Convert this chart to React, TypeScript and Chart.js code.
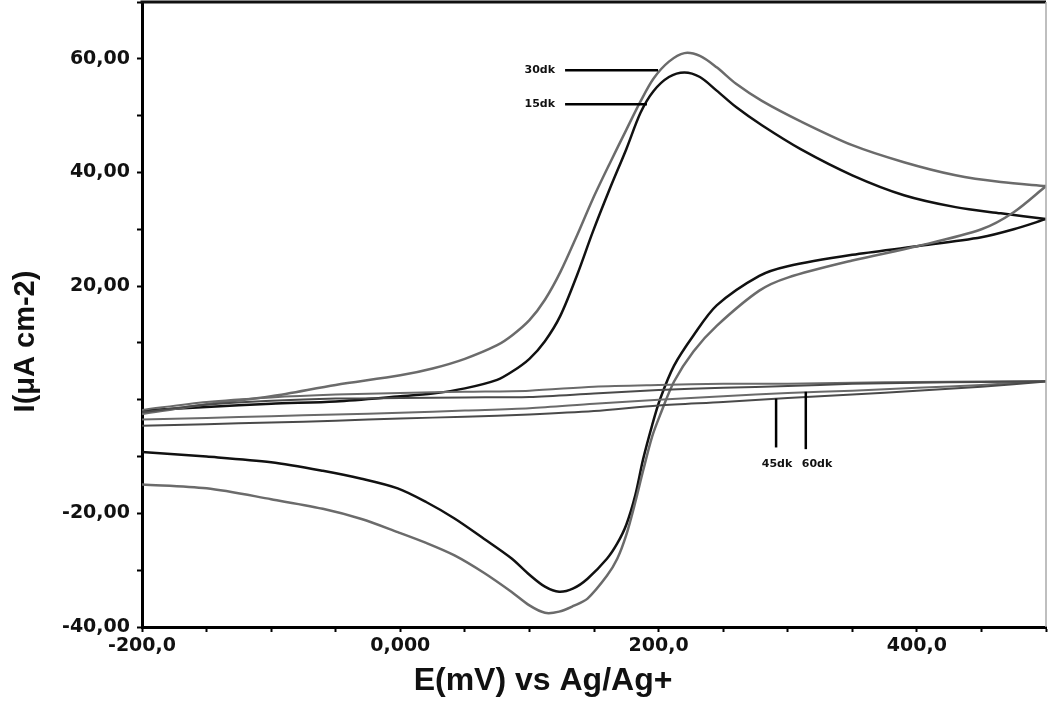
import React, { useEffect, useRef } from 'react';
import { Chart, registerables } from 'chart.js';

Chart.register(...registerables);

// ---- Forward (anodic) sweep of the two large voltammograms ----
const E_FWD = [-200, -150, -100, -50, 0, 25, 50, 75, 87, 100, 112, 124, 137, 149, 162, 175, 186, 196, 208, 220, 232, 245, 260, 280, 310, 350, 390, 430, 465, 500];
const I_FWD_15 = [-1.9, -1.3, -0.7, -0.3, 0.6, 1.1, 2.0, 3.5, 5.0, 7.2, 10.3, 14.8, 22, 29.5, 37, 44.1, 50.5, 54.3, 56.8, 57.6, 56.8, 54.4, 51.5, 48.3, 44.1, 39.5, 36, 33.9, 32.8, 31.8];
const I_FWD_30 = [-2.5, -0.8, 0.6, 2.6, 4.3, 5.5, 7.2, 9.6, 11.4, 14.0, 17.6, 22.5, 29, 35.3, 41.5, 47.5, 52.5, 56.5, 59.5, 61, 60.5, 58.5, 55.6, 52.6, 49, 44.8, 41.8, 39.5, 38.3, 37.6];

// ---- Reverse (cathodic) sweep of the two large voltammograms ----
const E_REV = [-200, -150, -100, -60, -30, -2, 20, 42, 65, 86, 100, 112, 123, 134, 145, 160, 168, 175, 182, 188, 195, 201, 212, 227, 245, 278, 300, 350, 400, 450, 475, 500];
const I_REV_15 = [-9.2, -10, -11, -12.5, -13.9, -15.6, -18, -20.9, -24.5, -27.9, -30.8, -32.9, -33.8, -33.2, -31.5, -28, -25.3, -22, -16.8, -10.5, -4.5, 0, 6.0, 11.3, 16.6, 21.8, 23.5, 25.5, 27, 28.6, 30, 31.8];
const I_REV_30 = [-14.9, -15.6, -17.5, -19.2, -21, -23.3, -25.2, -27.4, -30.5, -33.8, -36.2, -37.5, -37.3, -36.3, -35, -31, -28, -23.8, -18, -12.5, -6.5, -2.8, 3.2, 8.5, 13, 19.2, 21.5, 24.5, 27, 30, 33, 37.6];

// ---- Flat voltammograms (45 dk, 60 dk) ----
const E_FLAT = [-200, -150, -100, -50, 0, 50, 100, 150, 200, 250, 300, 350, 400, 450, 500];
const I_FWD_45 = [-2.2, -0.9, -0.2, 0.2, 0.3, 0.4, 0.5, 1.1, 1.7, 2.1, 2.4, 2.8, 3.0, 3.1, 3.2];
const I_REV_45 = [-4.6, -4.3, -4.0, -3.7, -3.3, -3.0, -2.6, -2.0, -1.0, -0.4, 0.3, 0.9, 1.6, 2.3, 3.2];
const I_FWD_60 = [-1.8, -0.4, 0.4, 0.9, 1.2, 1.4, 1.6, 2.3, 2.6, 2.8, 2.8, 3.0, 3.1, 3.2, 3.3];
const I_REV_60 = [-3.5, -3.2, -2.9, -2.6, -2.3, -1.9, -1.5, -0.7, 0.0, 0.6, 1.2, 1.6, 2.1, 2.6, 3.3];

// ---- Axis tick labels ----
const X_TICK_VALUES = [-200, 0, 200, 400];
const X_TICK_TEXT = ['-200,0', '0,000', '200,0', '400,0'];
const Y_TICK_VALUES = [60, 40, 20, -20, -40];
const Y_TICK_TEXT = ['60,00', '40,00', '20,00', '-20,00', '-40,00'];

const X_TITLE = 'E(mV) vs Ag/Ag+';
const Y_TITLE = 'I(μA cm-2)';

// ---- Curve labels with leader lines (data coordinates) ----
const NOTE_TEXT = ['30dk', '15dk', '45dk', '60dk'];
const NOTE_LINE_E0 = [127.6, 127.6, 291, 314];
const NOTE_LINE_E1 = [199.6, 191, 291, 314];
const NOTE_LINE_I0 = [58.0, 52.0, 0.2, 1.4];
const NOTE_LINE_I1 = [58.0, 52.0, -8.4, -8.7];
const NOTE_TEXT_E = [119.8, 119.8, 291.7, 322.7];
const NOTE_TEXT_I = [58.0, 52.0, -11.4, -11.4];
const NOTE_ALIGN = ['right', 'right', 'center', 'center'];

function pts(e: number[], i: number[]) {
  return e.map((x, k) => ({ x, y: i[k] }));
}

function lineSet(e: number[], i: number[], color: string, width: number) {
  return {
    data: pts(e, i),
    showLine: true,
    borderColor: color,
    backgroundColor: color,
    borderWidth: width,
    pointRadius: 0,
    tension: 0.3,
    fill: false,
  };
}

const framePlugin = {
  id: 'frame',
  afterDraw(chart: any) {
    const { ctx, chartArea } = chart;
    ctx.save();
    ctx.strokeStyle = '#111';
    ctx.lineWidth = 3;
    ctx.beginPath();
    ctx.moveTo(chartArea.left - 1.5, chartArea.top);
    ctx.lineTo(chartArea.right, chartArea.top);
    ctx.stroke();
    ctx.strokeStyle = '#aaa';
    ctx.lineWidth = 1.5;
    ctx.beginPath();
    ctx.moveTo(chartArea.right, chartArea.top);
    ctx.lineTo(chartArea.right, chartArea.bottom);
    ctx.stroke();
    ctx.restore();
  },
};

const notesPlugin = {
  id: 'notes',
  afterDatasetsDraw(chart: any) {
    const { ctx } = chart;
    const xs = chart.scales.x;
    const ys = chart.scales.y;
    ctx.save();
    ctx.strokeStyle = '#000';
    ctx.lineWidth = 2.5;
    for (let k = 0; k < NOTE_TEXT.length; k++) {
      ctx.beginPath();
      ctx.moveTo(xs.getPixelForValue(NOTE_LINE_E0[k]), ys.getPixelForValue(NOTE_LINE_I0[k]));
      ctx.lineTo(xs.getPixelForValue(NOTE_LINE_E1[k]), ys.getPixelForValue(NOTE_LINE_I1[k]));
      ctx.stroke();
    }
    ctx.fillStyle = '#111';
    ctx.font = 'bold 11px "DejaVu Sans"';
    ctx.textBaseline = 'middle';
    for (let k = 0; k < NOTE_TEXT.length; k++) {
      ctx.textAlign = NOTE_ALIGN[k] as CanvasTextAlign;
      ctx.fillText(NOTE_TEXT[k], xs.getPixelForValue(NOTE_TEXT_E[k]), ys.getPixelForValue(NOTE_TEXT_I[k]));
    }
    ctx.restore();
  },
};

const titlesPlugin = {
  id: 'titles',
  afterDraw(chart: any) {
    const { ctx } = chart;
    ctx.save();
    ctx.fillStyle = '#111';
    ctx.textAlign = 'center';
    ctx.textBaseline = 'alphabetic';
    ctx.font = 'bold 32px "Liberation Sans", Arial, sans-serif';
    ctx.fillText(X_TITLE, 543, 690);
    ctx.translate(34, 341.5);
    ctx.rotate(-Math.PI / 2);
    ctx.font = 'bold 29px "Liberation Sans", Arial, sans-serif';
    ctx.fillText(Y_TITLE, 0, 0);
    ctx.restore();
  },
};

export default function App() {
  const ref = useRef<HTMLCanvasElement>(null);

  useEffect(() => {
    const canvas = ref.current;
    if (!canvas) return;
    const tickFont = { family: '"DejaVu Sans"', weight: 'bold' as const, size: 19 };
    const chart = new Chart(canvas, {
      type: 'scatter',
      data: {
        datasets: [
          lineSet(E_FLAT, I_FWD_45, '#4a4a4a', 2),
          lineSet(E_FLAT, I_REV_45, '#4a4a4a', 2),
          lineSet(E_FLAT, I_FWD_60, '#6a6a6a', 2),
          lineSet(E_FLAT, I_REV_60, '#6a6a6a', 2),
          lineSet(E_FWD, I_FWD_30, '#6b6b6b', 2.5),
          lineSet(E_REV, I_REV_30, '#6b6b6b', 2.5),
          lineSet(E_FWD, I_FWD_15, '#111111', 2.5),
          lineSet(E_REV, I_REV_15, '#111111', 2.5),
        ],
      },
      options: {
        responsive: false,
        animation: false,
        devicePixelRatio: 1,
        layout: { padding: { top: 2, right: 2, left: 0, bottom: 0 } },
        plugins: {
          legend: { display: false },
          tooltip: { enabled: false },
        },
        scales: {
          x: {
            type: 'linear',
            min: -200,
            max: 500,
            afterFit: (s: any) => {
              s.height = 74;
              s.paddingLeft = 0;
              s.paddingRight = 0;
            },
            ticks: {
              stepSize: 50,
              autoSkip: false,
              maxRotation: 0,
              padding: 3,
              color: '#111',
              font: tickFont,
              callback: (v: any) => {
                const k = X_TICK_VALUES.indexOf(Number(v));
                return k >= 0 ? X_TICK_TEXT[k] : '';
              },
            },
            grid: {
              drawOnChartArea: false,
              drawTicks: true,
              tickLength: 5,
              tickWidth: 2,
              tickColor: '#000',
            },
            border: { display: true, width: 3, color: '#000' },
          },
          y: {
            type: 'linear',
            min: -40,
            max: 70,
            afterFit: (s: any) => {
              s.width = 142;
              s.paddingTop = 0;
              s.paddingBottom = 0;
            },
            ticks: {
              stepSize: 10,
              autoSkip: false,
              padding: 7,
              color: '#111',
              font: tickFont,
              callback: (v: any) => {
                const k = Y_TICK_VALUES.indexOf(Number(v));
                return k >= 0 ? Y_TICK_TEXT[k] : '';
              },
            },
            grid: {
              drawOnChartArea: false,
              drawTicks: true,
              tickLength: 5,
              tickWidth: 2,
              tickColor: '#000',
            },
            border: { display: true, width: 3, color: '#000' },
          },
        },
      },
      plugins: [framePlugin, notesPlugin, titlesPlugin],
    });
    return () => chart.destroy();
  }, []);

  return (
    <div style={{ position: 'fixed', left: 0, top: 0, width: 1048, height: 701, background: '#fff' }}>
      <canvas ref={ref} width={1048} height={701} style={{ display: 'block', width: 1048, height: 701 }} />
    </div>
  );
}
